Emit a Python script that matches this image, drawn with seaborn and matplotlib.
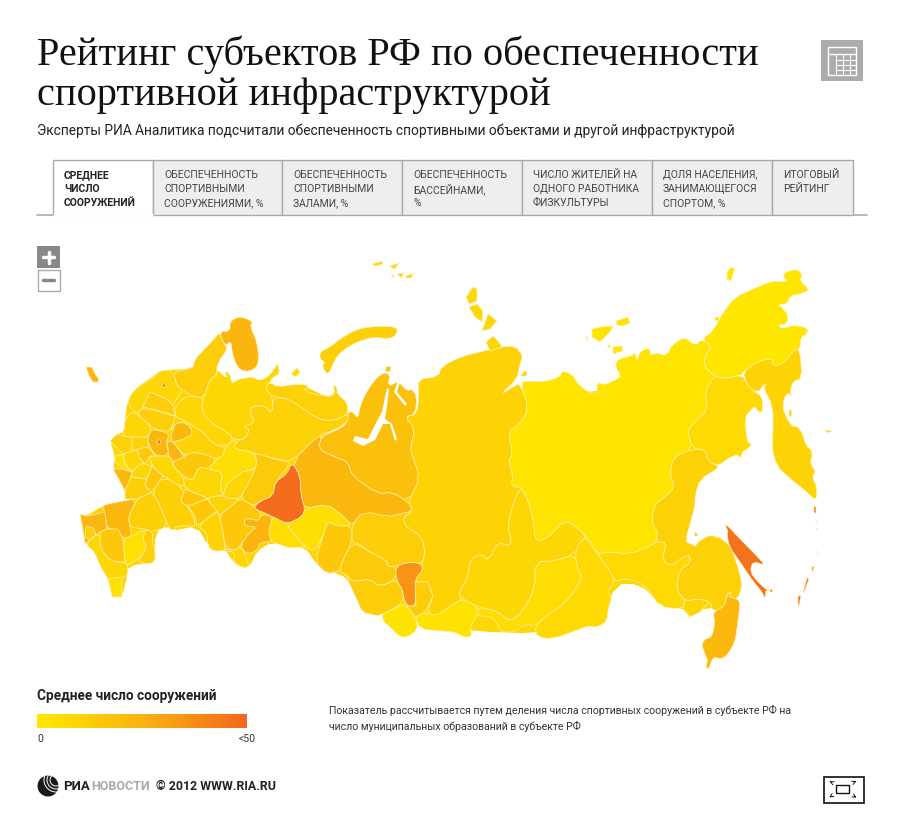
import numpy as np
import seaborn as sns
from matplotlib import pyplot as plt
from matplotlib.collections import PolyCollection
from matplotlib.colors import Normalize
from matplotlib.patches import Circle, Rectangle, Polygon

# region outlines
CHUKOTKA = [(702,340),(713,332),(722,315),(735,298),(753,290),(772,282),(783,283),(788,282),(783,278),(785,273),(798,270),(802,276),(800,282),(810,291),(800,295),(790,297),(787,305),(778,305),(783,310),(788,315),(787,325),(778,326),(782,330),(793,326),(808,329),(807,335),(801,338),(800,350),(793,352),(788,360),(783,365),(773,367),(772,359),(757,363),(743,373),(742,376),(727,379),(720,379),(715,377),(703,367),(707,353),(712,348)]
WRANGEL = [(727,273),(730,269),(735,269),(733,275),(731,282),(727,280)]
AYON = [(714,319),(718,318),(720,321),(716,322)]
YAKUTIA = [(520,383),(530,382),(543,383),(560,378),(562,372),(572,375),(580,388),(597,397),(597,383),(605,386),(617,380),(621,377),(615,367),(618,360),(632,357),(635,353),(637,363),(640,352),(650,349),(650,356),(658,354),(666,357),(673,345),(685,338),(695,347),(702,340),(712,348),(707,353),(703,367),(715,377),(718,378),(705,392),(708,410),(695,423),(687,432),(693,450),(673,458),(670,477),(675,488),(665,498),(654,506),(652,525),(658,533),(656,543),(648,548),(630,555),(608,553),(597,555),(587,538),(573,525),(563,522),(550,537),(540,542),(535,540),(533,517),(523,489),(511,487),(513,477),(508,460),(513,457),(508,432),(518,427),(529,410)]
NSI_1 = [(592,330),(600,328),(613,327),(610,333),(600,343),(592,338)]
NSI_2 = [(616,322),(628,318),(630,324),(623,327),(617,326)]
NSI_3 = [(613,348),(622,347),(623,352),(613,355)]
NSI_4 = [(608,345),(611,348),(608,349)]
NSI_5 = [(586,337),(588,339),(587,342)]
KRASNOYARSK = [(418,380),(438,378),(442,367),(463,357),(480,353),(500,348),(515,347),(523,357),(520,365),(517,380),(500,396),(513,388),(520,384),(529,410),(518,427),(508,432),(513,457),(508,460),(513,477),(511,487),(523,489),(517,493),(507,527),(512,542),(508,547),(498,543),(488,562),(482,555),(470,560),(468,578),(458,595),(463,600),(450,607),(437,617),(427,615),(433,597),(428,583),(415,583),(417,578),(422,572),(422,565),(425,553),(422,538),(405,527),(403,518),(413,512),(408,503),(420,480),(413,458),(410,450),(415,430),(405,418),(417,415),(419,395)]
YANAO = [(322,437),(335,432),(347,425),(348,413),(353,413),(358,420),(360,407),(368,390),(380,375),(390,374),(388,388),(398,382),(407,392),(412,390),(417,398),(415,415),(405,418),(415,430),(410,450),(413,458),(420,480),(408,503),(392,493),(378,495),(352,477),(348,463),(335,458),(318,450)]
BELY = [(387,367),(391,368),(390,373),(385,372)]
KHMAO = [(292,463),(317,437),(322,437),(318,450),(335,458),(348,463),(352,477),(378,495),(392,493),(408,503),(413,512),(400,515),(390,518),(362,513),(352,527),(343,517),(327,505),(305,510),(301,497),(300,477)]
SVERDLOVSK = [(292,463),(300,477),(301,497),(305,510),(302,518),(287,525),(273,518),(263,513),(253,510),(260,502),(273,497),(275,483),(287,475)]
KURGAN = [(273,518),(287,525),(292,533),(305,548),(290,549),(272,543),(268,533)]
TYUMEN_S = [(287,525),(302,518),(305,510),(327,505),(343,517),(352,527),(337,527),(328,522),(323,537),(315,552),(305,548),(292,533)]
OMSK = [(328,522),(337,527),(352,527),(352,543),(342,563),(340,572),(327,575),(315,563),(323,537)]
TOMSK = [(352,527),(363,512),(390,518),(400,515),(413,512),(403,518),(405,527),(422,538),(425,553),(422,565),(410,563),(396,567),(388,568),(387,562),(370,553),(360,545),(352,543)]
NOVOSIB = [(352,543),(370,553),(387,562),(388,568),(396,567),(396,580),(380,588),(370,580),(353,583),(345,575),(340,572),(342,563)]
KEMEROVO = [(396,567),(410,563),(422,565),(422,572),(417,578),(415,583),(416,607),(407,607),(403,597),(403,592),(396,580)]
ALTAI_KRAI = [(345,575),(353,583),(370,580),(380,588),(396,580),(403,592),(403,603),(390,612),(382,615),(377,617),(362,613),(358,603)]
ALTAI_REP = [(382,615),(390,612),(403,605),(407,607),(415,618),(418,630),(408,638),(400,638),(390,628),(383,622)]
KHAKASSIA = [(415,583),(428,583),(433,597),(425,613),(415,618),(407,607),(416,607)]
TYVA = [(415,618),(425,613),(437,617),(450,607),(463,600),(478,608),(477,617),(470,628),(472,638),(463,638),(455,633),(440,632),(420,630)]
IRKUTSK = [(470,560),(482,555),(488,562),(498,543),(508,547),(512,542),(507,527),(517,493),(523,489),(533,517),(535,540),(540,542),(550,537),(563,522),(573,525),(587,538),(580,543),(575,555),(555,562),(535,563),(535,590),(523,612),(510,623),(497,612),(478,608),(463,600),(458,595),(468,578)]
BURYATIA = [(535,563),(535,590),(523,612),(510,623),(497,612),(478,608),(477,617),(488,617),(497,623),(500,633),(513,633),(527,625),(535,627),(545,618),(567,603),(583,578),(578,572),(575,555),(555,562)]
ZABAIKAL = [(587,538),(580,543),(575,555),(578,572),(583,578),(567,603),(545,618),(535,627),(537,638),(553,640),(580,630),(588,627),(598,628),(607,622),(608,610),(612,598),(607,593),(615,583),(610,572),(600,558),(597,555)]
AMUR = [(597,555),(608,553),(630,555),(648,548),(656,543),(667,543),(662,562),(672,567),(680,560),(690,555),(690,565),(680,570),(676,590),(685,602),(683,610),(660,608),(648,590),(637,582),(623,580),(615,583),(610,572),(600,558)]
JEWISH = [(685,602),(698,600),(710,602),(700,613),(690,618),(683,610)]
KHABAROVSK = [(673,458),(693,450),(705,450),(708,462),(718,467),(717,470),(700,480),(695,497),(695,507),(690,525),(685,543),(692,545),(695,548),(698,543),(703,540),(710,536),(723,540),(732,550),(740,575),(742,587),(738,600),(728,598),(732,593),(727,595),(725,607),(713,613),(710,602),(698,600),(685,602),(676,590),(680,570),(690,565),(690,555),(680,560),(672,567),(662,562),(667,543),(656,543),(658,533),(652,525),(654,506),(665,498),(675,488),(670,477)]
PRIMORYE = [(713,613),(725,607),(727,595),(732,593),(728,598),(738,600),(740,605),(738,623),(735,643),(728,655),(722,660),(713,658),(710,667),(707,671),(706,665),(708,662),(703,650),(702,645),(705,640),(712,638),(715,623)]
SHANTAR = [(695,533),(698,535),(697,537),(694,537)]
MAGADAN = [(715,377),(720,379),(727,379),(742,376),(747,385),(753,392),(762,397),(763,413),(758,413),(755,407),(750,412),(745,418),(747,443),(752,445),(748,450),(743,452),(740,460),(738,455),(727,460),(718,467),(708,462),(705,450),(693,450),(687,432),(695,423),(708,410),(705,392)]
KAMCHATKA = [(743,373),(757,363),(772,359),(773,367),(783,365),(793,352),(800,350),(802,380),(793,382),(790,393),(792,398),(787,393),(782,407),(787,420),(793,428),(797,427),(803,435),(805,445),(813,453),(810,465),(816,472),(812,478),(817,488),(816,502),(807,493),(787,477),(777,467),(772,450),(773,437),(773,407),(763,388),(767,385),(762,387),(760,392),(753,392),(747,385)]
KARAGINSKY = [(789,410),(792,412),(791,418),(789,417)]
COMMANDER = [(824,431),(832,432),(829,434),(825,432)]
SAKHALIN = [(725,526),(728,527),(740,540),(753,553),(766,567),(753,562),(750,573),(758,583),(768,592),(772,590),(773,594),(766,590),(765,600),(762,593),(753,582),(746,572),(738,560),(730,549),(727,537),(728,532)]
KURIL_1 = [(814,507),(816,508),(816,515),(814,513)]
KURIL_2 = [(816,520),(817,524),(816,522)]
KURIL_3 = [(816,529),(818,530),(817,531)]
KURIL_4 = [(817,552),(818,555),(817,554)]
KURIL_5 = [(812,567),(814,568),(812,575)]
KURIL_6 = [(807,579),(809,580),(804,593),(803,593)]
KURIL_7 = [(798,597),(801,597),(799,607),(798,606)]
NOVAYA_ZEMLYA = [(320,353),(330,348),(340,340),(357,330),(377,327),(397,328),(397,335),(390,340),(373,338),(357,343),(343,351),(335,360),(328,377),(322,367),(325,363),(320,360)]
FJL_1 = [(372,265),(382,262),(383,265),(375,267)]
FJL_2 = [(390,267),(399,264),(395,270),(392,269)]
FJL_3 = [(391,275),(394,277),(393,279)]
FJL_4 = [(397,275),(404,274),(401,279)]
FJL_5 = [(406,277),(413,274),(411,279),(406,279)]
SEV_Z_1 = [(466,298),(473,288),(477,290),(477,302),(469,305)]
SEV_Z_2 = [(469,308),(477,305),(483,312),(482,323),(475,318)]
SEV_Z_3 = [(482,332),(488,315),(497,322),(490,330)]
SEV_Z_4 = [(486,343),(493,337),(498,342),(502,348),(490,352)]
DIKSON = [(520,377),(526,371),(527,377)]
MURMANSK = [(219,333),(230,332),(230,323),(237,318),(245,319),(253,323),(250,327),(257,343),(259,362),(255,370),(245,373),(237,368),(232,353),(231,342),(225,347)]
LENINGRAD = [(128,400),(137,388),(152,380),(155,376),(162,371),(173,372),(177,387),(183,391),(175,402),(173,407),(167,400),(150,393),(143,408),(138,415),(130,408)]
KARELIA = [(173,372),(193,370),(195,360),(203,352),(217,337),(219,333),(225,347),(228,349),(217,365),(217,376),(210,380),(204,399),(192,397),(183,391),(177,387)]
NOVGOROD = [(150,393),(167,400),(173,407),(175,417),(160,412),(143,408)]
VOLOGDA = [(175,408),(183,399),(192,397),(204,399),(201,408),(208,422),(230,435),(233,441),(225,448),(213,445),(203,433),(190,425),(180,420),(175,417)]
ARKHANGELSK = [(204,399),(210,380),(217,376),(217,370),(227,380),(225,372),(230,375),(232,385),(238,380),(253,378),(258,381),(265,380),(275,370),(277,363),(280,375),(273,378),(270,383),(265,390),(273,398),(272,415),(265,407),(252,407),(250,415),(255,423),(243,428),(250,430),(245,440),(233,441),(230,435),(208,422),(201,408)]
KOLGUEV = [(291,375),(297,369),(300,373),(296,378)]
NENETS = [(270,383),(277,388),(300,385),(310,387),(302,392),(327,398),(335,395),(333,385),(337,389),(337,395),(347,403),(348,415),(333,422),(317,420),(290,400),(273,398),(265,390)]
KOMI = [(252,407),(265,407),(272,415),(273,398),(290,400),(317,420),(333,422),(348,415),(348,422),(337,430),(317,437),(292,463),(277,460),(257,455),(252,453),(233,450),(237,442),(245,440),(250,430),(243,428),(255,423),(250,415)]
PERM = [(253,453),(277,461),(292,463),(275,483),(273,497),(260,502),(253,507),(240,499),(248,485),(255,470),(257,462)]
KIROV = [(225,448),(233,441),(237,442),(233,450),(253,453),(257,462),(255,470),(242,473),(227,485),(223,497),(220,487),(223,473),(208,470),(217,460),(223,457)]
UDMURTIA = [(227,485),(242,473),(255,470),(248,485),(240,499),(230,500),(223,497)]
BASHKORTOSTAN = [(219,517),(230,508),(240,499),(253,507),(262,515),(258,522),(252,520),(244,520),(245,527),(257,528),(250,533),(240,547),(235,552),(225,548),(223,533)]
CHELYABINSK = [(262,515),(273,518),(268,533),(272,543),(260,543),(257,552),(247,555),(240,547),(250,533),(257,528),(245,527),(244,520),(252,520),(258,522)]
ORENBURG = [(225,550),(235,552),(240,547),(245,555),(247,563),(250,567),(243,569),(233,563),(235,553),(223,552)]
SAMARA = [(197,527),(217,512),(219,517),(223,533),(225,550),(223,552),(213,552),(208,547),(207,533)]
SARATOV = [(188,507),(207,500),(217,512),(197,527),(195,517)]
PENZA = [(180,503),(185,490),(203,497),(207,500),(188,507)]
VOLGOGRAD = [(152,493),(163,477),(185,490),(180,503),(188,507),(197,527),(187,527),(177,527),(172,532),(168,527),(160,507)]
VORONEZH = [(137,500),(147,495),(152,493),(160,507),(168,527),(153,533),(145,530),(130,528),(128,518)]
BELGOROD = [(80,515),(87,517),(105,513),(107,530),(100,533),(85,545),(83,530)]
KURSK = [(102,507),(108,505),(123,502),(137,500),(128,518),(130,528),(132,537),(123,540),(118,530),(107,530),(105,513)]
CRIMEA = [(86,527),(93,529),(96,535),(90,541),(85,538)]
ROSTOV = [(100,533),(107,530),(118,530),(123,540),(125,563),(112,563),(100,550)]
KRASNODAR = [(123,540),(132,537),(145,530),(143,542),(147,547),(142,557),(128,567),(125,563)]
STAVROPOL = [(145,530),(153,533),(152,543),(155,550),(155,563),(147,565),(138,562),(142,557),(147,547),(143,542)]
CAUCASUS = [(85,545),(100,533),(100,550),(112,563),(125,563),(128,567),(127,578),(115,580),(108,580),(100,567),(95,553)]
DAGESTAN = [(108,580),(122,578),(122,598),(112,598),(110,587)]
SMOLENSK = [(110,442),(117,435),(123,437),(132,438),(132,452),(123,455),(115,447)]
KALUGA = [(132,438),(148,438),(148,448),(138,450),(132,452)]
TVER = [(124,433),(125,420),(132,413),(137,415),(152,428),(148,438),(132,438),(123,437)]
YAROSLAVL = [(137,415),(143,408),(175,417),(180,420),(173,425),(170,432),(160,432),(152,428)]
MOSCOW_OBL = [(148,438),(152,430),(160,432),(170,435),(166,442),(169,457),(155,457),(148,443)]
IVANOVO = [(175,425),(182,423),(190,427),(193,435),(185,440),(173,443),(171,437)]
VLADIMIR = [(167,442),(173,443),(177,448),(184,458),(173,463),(169,457)]
KOSTROMA = [(175,417),(180,420),(190,425),(203,433),(213,445),(225,448),(223,457),(217,460),(203,455),(193,453),(185,457),(177,448),(173,443),(185,440),(193,435),(190,427),(182,423),(175,425),(170,432),(173,425)]
NIZHNY = [(185,457),(193,453),(203,455),(217,460),(208,470),(198,468),(193,482),(183,477),(173,467),(173,463),(184,458)]
RYAZAN = [(150,457),(155,457),(169,457),(173,463),(173,467),(183,477),(185,490),(163,477),(152,467)]
TULA = [(138,450),(148,448),(155,457),(150,457),(145,465),(138,457)]
OREL = [(123,455),(132,452),(138,450),(138,457),(145,465),(140,465),(132,473),(125,465)]
BRYANSK = [(115,457),(123,455),(125,465),(132,473),(123,470),(115,463)]
TAMBOV = [(113,470),(122,470),(132,473),(130,482),(125,492),(120,482)]
LIPETSK = [(132,473),(140,465),(145,465),(152,467),(147,480),(131,478)]
ULYANOVSK = [(131,478),(147,480),(145,487),(152,493),(137,500),(125,500),(125,492)]
MORDOVIA = [(147,480),(152,467),(163,477),(152,493),(145,487)]
TATARSTAN = [(193,482),(198,468),(208,470),(223,473),(220,487),(223,497),(215,497),(207,500),(203,497),(185,490),(183,477)]
MARI = [(207,500),(215,497),(223,497),(230,500),(240,499),(230,508),(219,517),(217,512)]
KALININGRAD = [(86,368),(92,368),(95,375),(99,380),(98,383),(93,383),(89,377)]
MOSCOW_CITY = [(158,441),(160,441),(161,443),(160,445),(158,445),(157,443)]
SPB_CITY = [(163,385),(165,385),(166,386),(165,388),(163,388),(162,386)]

# shapes that sit under the regions so no gaps show between them
WEST_LAND = [(128,400),(137,388),(155,376),(162,371),(193,370),(195,360),(217,337),(225,347),(217,365),(217,376),(232,385),(253,378),(265,390),(300,385),(327,398),(347,403),(348,422),(322,437),(292,463),(305,510),(327,505),(352,527),(340,572),(327,575),(315,563),(305,548),(272,543),(257,552),(250,567),(243,569),(233,563),(225,550),(208,547),(197,527),(172,532),(168,527),(155,533),(155,563),(128,567),(127,578),(122,598),(112,598),(108,580),(95,553),(85,545),(80,515),(87,517),(102,507),(123,502),(137,500),(125,500),(125,492),(113,470),(115,457),(110,442),(117,435),(124,433),(125,420)]
EAST_LAND = [(300,515),(350,470),(420,420),(510,402),(700,380),(745,385),(745,440),(700,470),(685,480),(680,550),(730,562),(730,590),(720,608),(690,612),(660,605),(640,585),(615,585),(605,620),(540,635),(470,632),(420,625),(385,615),(360,605),(350,580),(325,570),(320,540)]
LAND_VALUES = [9, 8]

REGION_OUTLINES = [CHUKOTKA, WRANGEL, AYON, YAKUTIA, NSI_1, NSI_2, NSI_3, NSI_4, NSI_5, KRASNOYARSK, YANAO, BELY, KHMAO, SVERDLOVSK, KURGAN, TYUMEN_S, OMSK, TOMSK, NOVOSIB, KEMEROVO, ALTAI_KRAI, ALTAI_REP, KHAKASSIA, TYVA, IRKUTSK, BURYATIA, ZABAIKAL, AMUR, JEWISH, KHABAROVSK, PRIMORYE, SHANTAR, MAGADAN, KAMCHATKA, KARAGINSKY, COMMANDER, SAKHALIN, KURIL_1, KURIL_2, KURIL_3, KURIL_4, KURIL_5, KURIL_6, KURIL_7, NOVAYA_ZEMLYA, FJL_1, FJL_2, FJL_3, FJL_4, FJL_5, SEV_Z_1, SEV_Z_2, SEV_Z_3, SEV_Z_4, DIKSON, MURMANSK, LENINGRAD, KARELIA, NOVGOROD, VOLOGDA, ARKHANGELSK, KOLGUEV, NENETS, KOMI, PERM, KIROV, UDMURTIA, BASHKORTOSTAN, CHELYABINSK, ORENBURG, SAMARA, SARATOV, PENZA, VOLGOGRAD, VORONEZH, BELGOROD, KURSK, CRIMEA, ROSTOV, KRASNODAR, STAVROPOL, CAUCASUS, DAGESTAN, SMOLENSK, KALUGA, TVER, YAROSLAVL, MOSCOW_OBL, IVANOVO, VLADIMIR, KOSTROMA, NIZHNY, RYAZAN, TULA, OREL, BRYANSK, TAMBOV, LIPETSK, ULYANOVSK, MORDOVIA, TATARSTAN, MARI, KALININGRAD, MOSCOW_CITY, SPB_CITY]
REGION_VALUES = [1, 1, 1, 2, 2, 2, 2, 2, 2, 10, 19, 19, 23, 48, 6, 5, 15, 13, 14, 35, 13, 3, 13, 3, 8, 6, 7, 7, 9, 11, 22, 11, 7, 10, 10, 10, 46, 46, 46, 46, 46, 46, 46, 46, 12, 8, 8, 8, 8, 8, 8, 8, 8, 8, 9, 24, 8, 13, 13, 8, 8, 8, 11, 11, 14, 5, 8, 15, 25, 8, 10, 15, 15, 12, 12, 23, 23, 13, 15, 4, 12, 8, 4, 11, 11, 8, 12, 23, 22, 24, 10, 15, 8, 15, 8, 4, 22, 8, 12, 15, 8, 10, 24, 48, 48]

# Ob and Taz bays cut through the Yamal land
OB_BAY = [(387,389),(382,413),(377,422),(368,440),(355,437),(353,442),(363,447),(375,441),(383,425),(390,425),(395,442),(397,440),(392,425),(385,420),(387,407),(389,390)]
TAZ_BAY = [(398,382),(394,393),(405,407),(407,405),(397,393),(400,383)]

TITLE_LINES = ["Рейтинг субъектов РФ по обеспеченности", "спортивной инфраструктурой"]
SUBTITLE = "Эксперты РИА Аналитика подсчитали обеспеченность спортивными объектами и другой инфраструктурой"
TAB_EDGES = [53, 153, 282, 402, 522, 652, 772, 853]
TAB_LABELS = [
    ["СРЕДНЕЕ", "ЧИСЛО", "СООРУЖЕНИЙ"],
    ["ОБЕСПЕЧЕННОСТЬ", "СПОРТИВНЫМИ", "СООРУЖЕНИЯМИ, %"],
    ["ОБЕСПЕЧЕННОСТЬ", "СПОРТИВНЫМИ", "ЗАЛАМИ, %"],
    ["ОБЕСПЕЧЕННОСТЬ", "БАССЕЙНАМИ,", "%"],
    ["ЧИСЛО ЖИТЕЛЕЙ НА", "ОДНОГО РАБОТНИКА", "ФИЗКУЛЬТУРЫ"],
    ["ДОЛЯ НАСЕЛЕНИЯ,", "ЗАНИМАЮЩЕГОСЯ", "СПОРТОМ, %"],
    ["ИТОГОВЫЙ", "РЕЙТИНГ"],
]
LEGEND_TITLE = "Среднее число сооружений"
LEGEND_MIN = "0"
LEGEND_MAX = "<50"
NOTE_LINES = ["Показатель рассчитывается путем деления числа спортивных сооружений в субъекте РФ на",
              "число муниципальных образований в субъекте РФ"]


def rounded(outline):
    # one pass of corner cutting so borders do not look like straight cuts
    pts = np.array(outline, dtype=float)
    if len(pts) < 8:
        return pts
    nxt = np.roll(pts, -1, axis=0)
    return np.column_stack([0.75 * pts + 0.25 * nxt, 0.25 * pts + 0.75 * nxt]).reshape(-1, 2)


sns.set_theme(style="white")
plt.rcParams['font.family'] = ['Roboto', 'DejaVu Sans']

cmap = sns.blend_palette(["#FFE800", "#FAB30F", "#F4661F"], as_cmap=True)
norm = Normalize(0, 50)

fig = plt.figure(figsize=(9, 8.2), dpi=100)
ax = fig.add_axes([0, 0, 1, 1])
ax.set_xlim(0, 900)
ax.set_ylim(820, 0)
ax.axis("off")

# header
for y, line in zip([55, 95], TITLE_LINES):
    ax.text(37, y, line, family="Liberation Serif", fontsize=29.1, color="#111111", va="center")
ax.text(37, 131, SUBTITLE, fontsize=9.95, color="#222222", va="center")

# table icon
ax.add_patch(Rectangle((821, 41), 42, 41, fc="#ABABAB", ec="none"))
ax.add_patch(Rectangle((828, 48), 28, 28, fc="none", ec="white", lw=1))
ax.plot([828, 856], [55, 55], color="white", lw=1)
for y in [61, 66, 71]:
    ax.plot([836, 856], [y, y], color="white", lw=0.8)
for x in [836, 843, 850]:
    ax.plot([x, x], [55, 76], color="white", lw=0.8)

# tabs
ax.plot([37, 867], [216, 216], color="#AAAAAA", lw=1.2)
for i, lines in enumerate(TAB_LABELS):
    left, right = TAB_EDGES[i], TAB_EDGES[i + 1]
    active = i == 0
    ax.add_patch(Rectangle((left, 161), right - left, 55, fc="white" if active else "#EEEEEE",
                           ec="#AAAAAA", lw=1, zorder=2))
    if active:
        ax.plot([left + 1, right - 1], [216, 216], color="white", lw=2, zorder=3)
    for y, line in zip([175, 189, 203], lines):
        ax.text(left + 11, y, line, fontsize=7.5, fontweight="bold" if active else "normal",
                color="#222222" if active else "#444444", va="center", zorder=4)

# zoom buttons
ax.add_patch(Rectangle((37, 247), 23, 22, fc="#888888", ec="none"))
ax.plot([43, 54], [258, 258], color="white", lw=2.5)
ax.plot([48.5, 48.5], [252.5, 263.5], color="white", lw=2.5)
ax.add_patch(Rectangle((37.5, 270.5), 22, 21, fc="white", ec="#AAAAAA", lw=1))
ax.plot([43, 54], [281, 281], color="#888888", lw=2.5)

# map
land = PolyCollection([rounded(WEST_LAND), rounded(EAST_LAND)], array=np.array(LAND_VALUES, dtype=float),
                      cmap=cmap, norm=norm, edgecolors="none")
ax.add_collection(land)
regions = PolyCollection([rounded(o) for o in REGION_OUTLINES], array=np.array(REGION_VALUES, dtype=float),
                         cmap=cmap, norm=norm, edgecolors="#FFF0B8", linewidths=0.5)
ax.add_collection(regions)
for bay in [OB_BAY, TAZ_BAY]:
    ax.add_patch(Polygon(bay, fc="white", ec="none"))

# legend
ax.text(37, 696, LEGEND_TITLE, fontsize=9.85, fontweight="bold", color="#222222", va="center")
cax = fig.add_axes([37 / 900, 1 - 729 / 820, 210 / 900, 14 / 820])
sns.heatmap(np.linspace(0, 50, 200).reshape(1, -1), ax=cax, cmap=cmap, norm=norm, cbar=False,
            xticklabels=False, yticklabels=False)
ax.text(37, 739, LEGEND_MIN, fontsize=7.5, color="#333333", va="center")
ax.text(256, 739, LEGEND_MAX, fontsize=7.5, color="#333333", va="center", ha="right")

for y, line in zip([710, 726], NOTE_LINES):
    ax.text(329, y, line, fontsize=7.55, color="#333333", va="center")

# logo
ax.add_patch(Circle((48, 787), 10.5, fc="#1A1A1A", ec="none"))
for r in [6, 9, 12]:
    ax.add_patch(Circle((56, 781), r, fc="none", ec="white", lw=0.7))
ax.text(63, 787, "РИА", fontsize=9.5, fontweight="bold", color="#222222", va="center")
ax.text(91, 787, "НОВОСТИ", fontsize=9, fontweight="bold", color="#AAAAAA", va="center")
ax.text(156, 787, "© 2012 WWW.RIA.RU", fontsize=8.9, fontweight="bold", color="#222222", va="center")

# fullscreen icon
ax.add_patch(Rectangle((823.5, 777.5), 40, 26, fc="white", ec="#111111", lw=1.2))
ax.add_patch(Rectangle((836, 786), 13, 8, fc="white", ec="#111111", lw=1))
for x0, y0, x1, y1 in [(833, 784, 827, 781), (852, 784, 859, 781), (833, 796, 827, 800), (852, 796, 859, 800)]:
    ax.annotate("", xy=(x1, y1), xytext=(x0, y0), arrowprops=dict(arrowstyle="->", lw=0.7, color="#111111", mutation_scale=6))

fig.savefig("out.png", dpi=100)
